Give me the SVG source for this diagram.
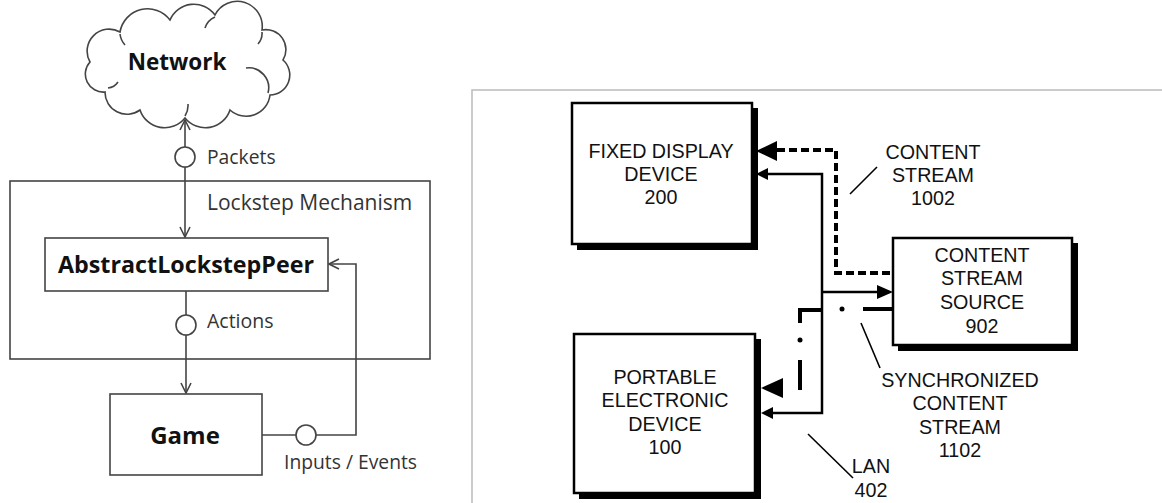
<svg xmlns="http://www.w3.org/2000/svg" width="1162" height="503" viewBox="0 0 1162 503">
<style>
.l{fill:none;stroke:#444;stroke-width:1.6}
.box{fill:#fff;stroke:#444;stroke-width:1.6}
.tb{font-family:"Open Sans","Noto Sans",sans-serif;font-weight:bold;fill:#111;text-anchor:middle}
.tr{font-family:"Open Sans","Noto Sans",sans-serif;fill:#333}
.pb{fill:#fff;stroke:#000;stroke-width:2.5}
.sh{fill:#000}
.ta{font-family:"Liberation Sans",Arial,sans-serif;font-size:19.7px;fill:#111;text-anchor:middle}
.k{fill:none;stroke:#000}
</style>
<defs>
<marker id="v" viewBox="0 0 12 12" refX="11" refY="6" markerWidth="12" markerHeight="12" markerUnits="userSpaceOnUse" orient="auto-start-reverse">
<path d="M1 1 L11 6 L1 11" fill="none" stroke="#444" stroke-width="1.6"/>
</marker>
</defs>
<rect width="1162" height="503" fill="#fff"/>

<!-- left diagram -->
<g id="lockstep">
<rect x="10" y="181" width="420" height="178" class="box"/>
<text x="207" y="210" class="tr" font-size="21">Lockstep Mechanism</text>
</g>
<g id="network">
<path class="box" d="M105 92 A18 18 0 0 1 90 62 A22 22 0 0 1 120 32 A28 28 0 0 1 170 20 A26 26 0 0 1 215 15 A25 25 0 0 1 262 30 A20 20 0 0 1 283 60 A20 20 0 0 1 270 95 A24 24 0 0 1 230 110 A26 26 0 0 1 185 118 A26 26 0 0 1 140 110 A22 22 0 0 1 105 92 Z"/>
<path class="l" d="M108 88 A14 14 0 0 0 118 82 M120 34 A20 20 0 0 0 125 45 M215 17 A18 18 0 0 0 205 28 M262 32 A16 16 0 0 1 258 44 M268 93 A20 20 0 0 0 246 68 M185 116 A20 20 0 0 0 188 104"/>
<text x="177" y="70" class="tb" font-size="22.5">Network</text>
</g>
<g id="peer">
<rect x="45" y="238" width="283" height="53" class="box"/>
<text x="186" y="273" class="tb" font-size="23" textLength="256" lengthAdjust="spacingAndGlyphs">AbstractLockstepPeer</text>
</g>
<g id="game">
<rect x="110" y="394" width="152" height="81" class="box"/>
<text x="185" y="444" class="tb" font-size="24">Game</text>
</g>
<g id="left-connectors">
<line x1="185" y1="120" x2="185" y2="147" class="l" marker-start="url(#v)"/>
<line x1="185" y1="167" x2="185" y2="237" class="l" marker-end="url(#v)"/>
<circle cx="185" cy="157" r="10" class="box"/>
<text x="207" y="164" class="tr" font-size="19.3">Packets</text>
<line x1="186" y1="291" x2="186" y2="315" class="l"/>
<line x1="186" y1="335" x2="186" y2="393" class="l" marker-end="url(#v)"/>
<circle cx="186" cy="325" r="10" class="box"/>
<text x="207" y="328" class="tr" font-size="19.5">Actions</text>
<path d="M262 435 H296 M316 435 H356 V264 H329" class="l" marker-end="url(#v)"/>
<circle cx="306" cy="435" r="10" class="box"/>
<text x="284" y="469" class="tr" font-size="19.3">Inputs / Events</text>
</g>

<!-- right diagram -->
<g id="panel">
<path d="M1162 90 H472 V503" fill="none" stroke="#bbb" stroke-width="1.5"/>
</g>
<g id="fixed-display">
<path class="sh" d="M752 108 H758 V250 H577 V244 H752 Z"/>
<rect x="572" y="103" width="180" height="141" class="pb"/>
<text class="ta" x="661" y="158">FIXED DISPLAY</text>
<text class="ta" x="661" y="181">DEVICE</text>
<text class="ta" x="661" y="204">200</text>
</g>
<g id="content-source">
<path class="sh" d="M1072 243 H1078 V351 H898 V345 H1072 Z"/>
<rect x="893" y="238" width="179" height="107" class="pb"/>
<text class="ta" x="982" y="262">CONTENT</text>
<text class="ta" x="982" y="285">STREAM</text>
<text class="ta" x="982" y="309">SOURCE</text>
<text class="ta" x="982" y="333">902</text>
</g>
<g id="portable">
<path class="sh" d="M755 339 H761 V499 H579 V493 H755 Z"/>
<rect x="574" y="334" width="181" height="159" class="pb"/>
<text class="ta" x="665" y="384">PORTABLE</text>
<text class="ta" x="665" y="407">ELECTRONIC</text>
<text class="ta" x="665" y="431">DEVICE</text>
<text class="ta" x="665" y="454">100</text>
</g>
<g id="right-connectors">
<path d="M777 150 H836 V273 H893" class="k" stroke-width="4" stroke-dasharray="8 4"/>
<path d="M756 151 L777 141 L777 161 Z" class="sh"/>
<path d="M767 174 H822 V413 H772" class="k" stroke-width="2.5"/>
<path d="M756 174 L768 168 L768 180 Z" class="sh"/>
<path d="M822 292 H878" class="k" stroke-width="2.5"/>
<path d="M893 292 L877 285 L877 299 Z" class="sh"/>
<path d="M863 309 H893" class="k" stroke-width="4"/>
<circle cx="842" cy="309" r="2.5" class="sh"/>
<path d="M822 310 H800 V323" class="k" stroke-width="4"/>
<circle cx="800" cy="340" r="2.5" class="sh"/>
<path d="M800 360 V390" class="k" stroke-width="4"/>
<path d="M761 388 L783 378 L783 398 Z" class="sh"/>
<path d="M761 413 L773 407 L773 419 Z" class="sh"/>
<line x1="877" y1="167" x2="850" y2="194" class="k" stroke-width="1.6"/>
<line x1="861" y1="323" x2="880" y2="368" class="k" stroke-width="1.6"/>
<line x1="808" y1="434" x2="853" y2="478" class="k" stroke-width="1.6"/>
<text class="ta" x="933" y="159">CONTENT</text>
<text class="ta" x="933" y="182">STREAM</text>
<text class="ta" x="933" y="205">1002</text>
<text class="ta" x="960" y="387">SYNCHRONIZED</text>
<text class="ta" x="960" y="410">CONTENT</text>
<text class="ta" x="960" y="434">STREAM</text>
<text class="ta" x="960" y="457">1102</text>
<text class="ta" x="871" y="473">LAN</text>
<text class="ta" x="871" y="497">402</text>
</g>
</svg>
